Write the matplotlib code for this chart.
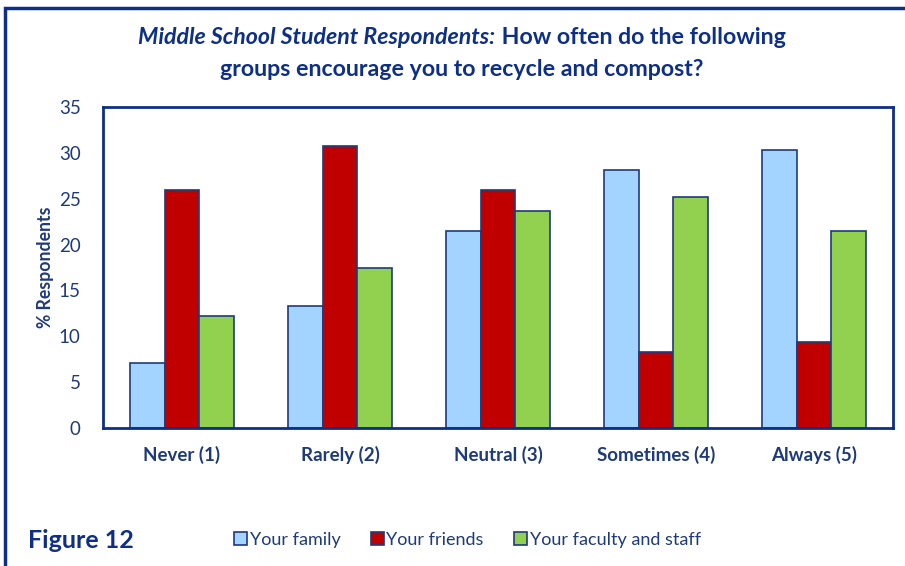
import numpy as np
import matplotlib.pyplot as plt
from matplotlib.patches import Patch, Rectangle

categorias = ["Never (1)", "Rarely (2)", "Neutral (3)", "Sometimes (4)", "Always (5)"]
series = ["Your family", "Your friends", "Your faculty and staff"]
familia = [7.1, 13.3, 21.5, 28.1, 30.3]
amigos = [26.0, 30.8, 26.0, 8.3, 9.4]
personal = [12.2, 17.5, 23.7, 25.2, 21.5]
yticks = [0, 5, 10, 15, 20, 25, 30, 35]

colores = ["#A3D3FF", "#C00000", "#92D050"]
azul = "#1F3A7A"
borde = "#0E2F86"
fuente = "Lato"

fig = plt.figure(figsize=(9.05, 5.66), dpi=100)
fig.patches.append(Rectangle((5 / 905, -0.05), 1.2, (566 - 8) / 566 + 0.05,
                             transform=fig.transFigure, fill=False,
                             edgecolor=borde, linewidth=2.5))

ax = fig.add_axes([103 / 905, 1 - 428 / 566, 790 / 905, 321 / 566])
x = np.arange(len(categorias))
w = 0.22
for i, vals in enumerate([familia, amigos, personal]):
    ax.bar(x + (i - 1) * w, vals, w, color=colores[i], edgecolor=azul,
           linewidth=1.2, label=series[i])

ax.set_xlim(-0.5, len(categorias) - 0.5)
ax.set_ylim(0, 35)
ax.set_yticks(yticks)
ax.set_yticklabels([str(t) for t in yticks], fontsize=13.5, color=azul, family=fuente)
ax.set_xticks(x)
ax.set_xticklabels(categorias, fontsize=13.5, fontweight="bold", color=azul, family=fuente)
ax.tick_params(axis="x", length=0, pad=13)
ax.tick_params(axis="y", length=0, pad=16)
for s in ax.spines.values():
    s.set_color(borde)
    s.set_linewidth(2)
ax.set_ylabel("% Respondents", fontsize=12.7, fontweight="bold", color=azul, family=fuente)
ax.yaxis.set_label_coords(-49 / 790, 0.5)

# titulo en dos partes (cursiva + normal)
fig.canvas.draw()
r = fig.canvas.get_renderer()
y1 = 1 - 37 / 566
ft = 16.7
t1 = fig.text(0, y1, "Middle School Student Respondents:", fontsize=ft, fontweight="bold",
              style="italic", color=borde, family=fuente, va="center")
t2 = fig.text(0, y1, " How often do the following", fontsize=ft, fontweight="bold",
              color=borde, family=fuente, va="center")
w1 = t1.get_window_extent(r).width / 905
w2 = t2.get_window_extent(r).width / 905
x0 = 462 / 905 - (w1 + w2) / 2
t1.set_x(x0)
t2.set_x(x0 + w1)
fig.text(462 / 905, 1 - 70 / 566, "groups encourage you to recycle and compost?", fontsize=ft,
         fontweight="bold", color=borde, family=fuente, ha="center", va="center")

fig.text(28 / 905, 1 - 540 / 566, "Figure 12", fontsize=18, fontweight="bold",
         color=borde, family=fuente, va="center")

handles = [Patch(facecolor=c, edgecolor=azul, linewidth=1.2) for c in colores]
fig.legend(handles, series, loc="center left", bbox_to_anchor=(218 / 905, 1 - 540 / 566),
           ncol=3, frameon=False, prop={"family": fuente, "size": 13},
           labelcolor=azul, handlelength=0.7, handleheight=0.7, handletextpad=0.15,
           columnspacing=1.7)

fig.savefig("out.png", dpi=100)
